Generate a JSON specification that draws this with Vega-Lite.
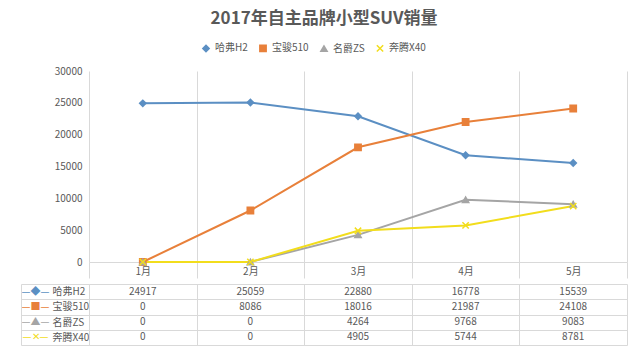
{
  "$schema": "https://vega.github.io/schema/vega-lite/v6.json",
  "padding": {"left": 20, "top": 10, "right": 14, "bottom": 10},
  "title": {"text": "2017年自主品牌小型SUV销量", "fontSize": 17, "fontWeight": "bold", "color": "#595959", "anchor": "middle", "offset": 15},
  "datasets": {
    "sales": [
      {"month": "1月", "series": "哈弗H2", "value": 24917},
      {"month": "2月", "series": "哈弗H2", "value": 25059},
      {"month": "3月", "series": "哈弗H2", "value": 22880},
      {"month": "4月", "series": "哈弗H2", "value": 16778},
      {"month": "5月", "series": "哈弗H2", "value": 15539},
      {"month": "1月", "series": "宝骏510", "value": 0},
      {"month": "2月", "series": "宝骏510", "value": 8086},
      {"month": "3月", "series": "宝骏510", "value": 18016},
      {"month": "4月", "series": "宝骏510", "value": 21987},
      {"month": "5月", "series": "宝骏510", "value": 24108},
      {"month": "1月", "series": "名爵ZS", "value": 0},
      {"month": "2月", "series": "名爵ZS", "value": 0},
      {"month": "3月", "series": "名爵ZS", "value": 4264},
      {"month": "4月", "series": "名爵ZS", "value": 9768},
      {"month": "5月", "series": "名爵ZS", "value": 9083},
      {"month": "1月", "series": "奔腾X40", "value": 0},
      {"month": "2月", "series": "奔腾X40", "value": 0},
      {"month": "3月", "series": "奔腾X40", "value": 4905},
      {"month": "4月", "series": "奔腾X40", "value": 5744},
      {"month": "5月", "series": "奔腾X40", "value": 8781}
    ]
  },
  "data": {"name": "sales"},
  "spacing": 0,
  "vconcat": [
    {
      "width": 538,
      "height": 191,
      "encoding": {
        "x": {
          "field": "month", "type": "ordinal", "bandPosition": 0.5,
          "sort": ["1月", "2月", "3月", "4月", "5月"],
          "scale": {"type": "band", "paddingInner": 0, "paddingOuter": 0},
          "axis": {"title": null, "labelAngle": 0, "tickBand": "extent", "grid": true, "gridColor": "#d9d9d9", "tickColor": "#d9d9d9", "tickSize": 16, "domainColor": "#d9d9d9", "labelPadding": -12, "labelColor": "#595959", "labelFontSize": 10, "labelBaseline": "top", "minExtent": 16, "maxExtent": 16}
        },
        "y": {
          "field": "value", "type": "quantitative",
          "scale": {"domain": [0, 30000]},
          "axis": {"title": null, "values": [0, 5000, 10000, 15000, 20000, 25000, 30000], "format": "d", "grid": false, "domain": false, "ticks": false, "labelPadding": 7, "labelColor": "#595959", "labelFontSize": 10}
        },
        "color": {
          "field": "series", "type": "nominal",
          "sort": ["哈弗H2", "宝骏510", "名爵ZS", "奔腾X40"],
          "scale": {"domain": ["哈弗H2", "宝骏510", "名爵ZS", "奔腾X40"], "range": ["#5b8fc3", "#e8803a", "#a5a5a5", "#f2dd1c"]},
          "legend": {"orient": "none", "legendX": 112, "legendY": -28, "direction": "horizontal", "title": null, "labelFontSize": 10, "labelColor": "#595959", "symbolSize": 40, "columnPadding": 8}
        }
      },
      "layer": [
        {"mark": {"type": "line", "strokeWidth": 2}},
        {
          "mark": {"type": "point", "filled": true, "size": 40, "opacity": 1, "strokeWidth": 1.5},
          "encoding": {
            "shape": {
              "field": "series", "type": "nominal",
              "sort": ["哈弗H2", "宝骏510", "名爵ZS", "奔腾X40"],
              "scale": {"domain": ["哈弗H2", "宝骏510", "名爵ZS", "奔腾X40"], "range": ["diamond", "square", "triangle-up", "M-1,-1L1,1M1,-1L-1,1"]},
              "legend": {"orient": "none", "legendX": 112, "legendY": -28, "direction": "horizontal", "title": null, "labelFontSize": 10, "labelColor": "#595959", "symbolSize": 40, "columnPadding": 8}
            },
            "stroke": {
              "field": "series", "type": "nominal",
              "scale": {"domain": ["哈弗H2", "宝骏510", "名爵ZS", "奔腾X40"], "range": ["#5b8fc3", "#e8803a", "#a5a5a5", "#f2dd1c"]},
              "legend": null
            }
          }
        }
      ]
    },
    {
      "width": 538,
      "height": 61,
      "encoding": {
        "x": {
          "field": "month", "type": "ordinal",
          "sort": ["1月", "2月", "3月", "4月", "5月"],
          "scale": {"type": "band", "paddingInner": 0, "paddingOuter": 0},
          "axis": {"title": null, "labels": false, "ticks": false, "domain": false, "grid": true, "tickBand": "extent", "gridColor": "#d9d9d9"}
        },
        "text": {"field": "value", "type": "quantitative", "format": "d"}
      },
      "layer": [
        {
          "mark": {"type": "text", "fontSize": 10, "color": "#595959"},
          "encoding": {
            "y": {
              "field": "series", "type": "nominal",
              "sort": ["哈弗H2", "宝骏510", "名爵ZS", "奔腾X40"],
              "scale": {"type": "band", "paddingInner": 0, "paddingOuter": 0},
              "axis": {"title": null, "orient": "left", "tickBand": "extent", "grid": true, "gridColor": "#d9d9d9", "tickSize": 68, "tickColor": "#d9d9d9", "domain": true, "domainColor": "#d9d9d9", "labelAlign": "left", "labelPadding": -31, "labelColor": "#595959", "labelFontSize": 10}
            }
          }
        },
        {
          "mark": {"type": "text", "fontSize": 10, "opacity": 0},
          "encoding": {
            "y": {
              "field": "series", "type": "nominal",
              "sort": ["哈弗H2", "宝骏510", "名爵ZS", "奔腾X40"],
              "scale": {"type": "band", "paddingInner": 0, "paddingOuter": 0},
              "axis": {
                "title": null, "orient": "left", "grid": false, "domain": false, "ticks": false, "tickSize": 0,
                "labelAlign": "center", "labelPadding": 54, "labelFontSize": 10,
                "labelExpr": "datum.value == '哈弗H2' ? '—◆—' : datum.value == '宝骏510' ? '—■—' : datum.value == '名爵ZS' ? '—▲—' : '—✕—'",
                "labelColor": {"condition": [
                  {"test": "datum.value == '哈弗H2'", "value": "#5b8fc3"},
                  {"test": "datum.value == '宝骏510'", "value": "#e8803a"},
                  {"test": "datum.value == '名爵ZS'", "value": "#a5a5a5"}
                ], "value": "#f2dd1c"}
              }
            }
          }
        },
        {
          "mark": {"type": "text", "fontSize": 10, "opacity": 0},
          "encoding": {
            "y": {
              "field": "series", "type": "nominal",
              "sort": ["哈弗H2", "宝骏510", "名爵ZS", "奔腾X40"],
              "scale": {"type": "band", "paddingInner": 0, "paddingOuter": 0},
              "axis": {"title": null, "orient": "left", "offset": 68, "grid": false, "domain": true, "domainColor": "#d9d9d9", "ticks": false, "labels": false}
            }
          }
        }
      ],
      "resolve": {"scale": {"y": "independent"}, "axis": {"y": "independent"}}
    }
  ],
  "config": {
    "font": "Noto Sans CJK SC",
    "view": {"stroke": null}
  }
}
